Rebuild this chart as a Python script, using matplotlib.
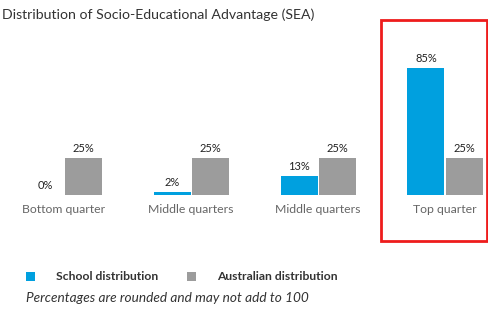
import matplotlib
matplotlib.use("Agg")
import matplotlib.pyplot as plt
from matplotlib.patches import Rectangle
import numpy as np

categories = ["Bottom quarter", "Middle quarters", "Middle quarters", "Top quarter"]
school = [0, 2, 13, 85]
australia = [25, 25, 25, 25]
series_names = ["School distribution", "Australian distribution"]
title = "Distribution of Socio-Educational Advantage (SEA)"
note = "Percentages are rounded and may not add to 100"

BLUE = "#00A0DF"
GREY = "#9C9C9C"
plt.rcParams['font.family'] = ['Lato', 'DejaVu Sans']

W, H = 489, 332
fig = plt.figure(figsize=(W / 100, H / 100), dpi=100)

def fx(px):
    return px / W

def fy(py):
    return 1 - py / H

# axes: baseline at y=195 px, 100% = 149.4 px, x spans whole figure
base = 195
h100 = 149.4
ax = fig.add_axes([0, fy(base), 1, h100 / H])
spacing = 127
ax.set_xlim(-64 / spacing, (W - 64) / spacing)
ax.set_ylim(0, 100)
ax.axis("off")

x = np.arange(len(categories))
bw = 37 / spacing
off = 19 / spacing
ax.bar(x - off, school, width=bw, color=BLUE)
ax.bar(x + off, australia, width=bw, color=GREY)

for xi, v in zip(x, school):
    ax.text(xi - off, v + 2.7, f"{v}%", ha="center", va="bottom", fontsize=8, color="#222222")
for xi, v in zip(x, australia):
    ax.text(xi + off, v + 2.7, f"{v}%", ha="center", va="bottom", fontsize=8, color="#222222")
for xi, c in zip(x, categories):
    ax.text(xi, -10, c, ha="center", va="center", fontsize=8.8, color="#666666")

fig.text(fx(2), fy(15), title, ha="left", va="center", fontsize=10.2, color="#333333")

# highlight box
fig.patches.append(Rectangle((fx(381.5), fy(241)), fx(487 - 381.5), (241 - 20) / H,
                             transform=fig.transFigure, fill=False, edgecolor="#EE1C1C", linewidth=2))

# legend
for px, col, name, tx in [(26, BLUE, series_names[0], 56), (187, GREY, series_names[1], 217)]:
    fig.patches.append(Rectangle((fx(px), fy(281)), 9 / W, 9 / H, transform=fig.transFigure,
                                 facecolor=col, edgecolor="none"))
    fig.text(fx(tx), fy(276.5), name, ha="left", va="center", fontsize=8.7, fontweight="bold", color="#333333")

fig.text(fx(26), fy(298), note, ha="left", va="center", fontsize=9.8, style="italic", color="#333333")

fig.savefig("out.png", dpi=100)
